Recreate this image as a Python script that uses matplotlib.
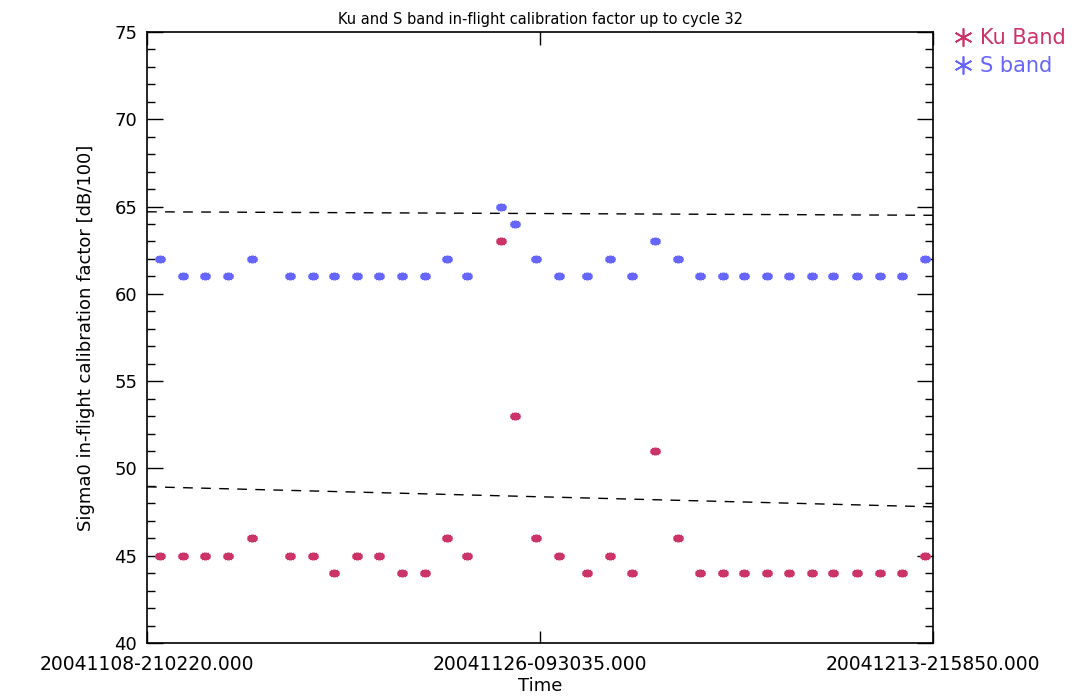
import numpy as np
import matplotlib
matplotlib.use("Agg")
import matplotlib.pyplot as plt
from matplotlib.path import Path
from matplotlib.lines import Line2D

# Pass times, in days after 2004-11-08 21:02:20
days = [0.58, 1.60, 2.59, 3.61, 4.68, 6.38, 7.40, 8.34, 9.36, 10.34,
        11.37, 12.40, 13.38, 14.27, 15.78, 16.41, 17.34, 18.37, 19.62, 20.64,
        21.62, 22.65, 23.67, 24.65, 25.68, 26.62, 27.64, 28.62, 29.65, 30.58,
        31.65, 32.68, 33.66, 34.69]

ku_band = [45, 45, 45, 45, 46, 45, 45, 44, 45, 45,
           44, 44, 46, 45, 63, 53, 46, 45, 44, 45,
           44, 51, 46, 44, 44, 44, 44, 44, 44, 44,
           44, 44, 44, 45]

s_band = [62, 61, 61, 61, 62, 61, 61, 61, 61, 61,
          61, 61, 62, 61, 65, 64, 62, 61, 61, 62,
          61, 63, 62, 61, 61, 61, 61, 61, 61, 61,
          61, 61, 61, 62]

# Threshold lines (start / end of the period)
limit_days = [0.0, 35.04]
upper_limit = [64.7, 64.5]
lower_limit = [48.95, 47.8]

tick_days = [0.0, 17.52, 35.04]
tick_labels = ["20041108-210220.000", "20041126-093035.000", "20041213-215850.000"]

ku_color = "#CC3366"
s_color = "#6666FF"

# flattened asterisk used for the data points
ang = np.deg2rad([0, 30, 60, 90, 120, 150])
verts, codes = [], []
for a in ang:
    dx, dy = np.cos(a), np.sin(a) * 0.62
    verts += [(-dx, -dy), (dx, dy)]
    codes += [Path.MOVETO, Path.LINETO]
blob = Path(verts, codes)

fig = plt.figure(figsize=(10.77, 6.98), dpi=100)
ax = fig.add_axes([0.1365, 0.0788, 0.7298, 0.8754])

ax.plot(limit_days, upper_limit, color="black", lw=1.0, ls=(0, (7, 6)))
ax.plot(limit_days, lower_limit, color="black", lw=1.0, ls=(0, (7, 6)))

ax.plot(days, ku_band, ls="none", marker=blob, ms=7, mew=3.6,
        mec=ku_color, mfc=ku_color)
ax.plot(days, s_band, ls="none", marker=blob, ms=7, mew=3.6,
        mec=s_color, mfc=s_color)

ax.set_xlim(0, 35.04)
ax.set_ylim(40, 75)
ax.set_xticks(tick_days)
ax.set_xticklabels(tick_labels, fontsize=13.5)
ax.set_yticks(np.arange(40, 76, 5))
ax.set_yticks(np.arange(40, 76, 1), minor=True)
ax.tick_params(axis="y", which="major", direction="in", length=11.5, width=1,
               labelsize=13, pad=7, right=True, left=True)
ax.tick_params(axis="y", which="minor", direction="in", length=5.8, width=1,
               right=True, left=True)
ax.tick_params(axis="x", which="major", direction="in", length=9, width=1,
               pad=9, top=True, bottom=True)
ax.xaxis.set_minor_locator(matplotlib.ticker.NullLocator())
for sp in ax.spines.values():
    sp.set_linewidth(1.2)

ax.set_title("Ku and S band in-flight calibration factor up to cycle 32",
             fontsize=10.5, pad=6)
ax.set_xlabel("Time", fontsize=13, labelpad=2)
ax.set_ylabel("Sigma0 in-flight calibration factor [dB/100]", fontsize=13,
              labelpad=14)

handles = [Line2D([], [], ls="none", marker=(6, 2, 0), ms=13, mew=1.2,
                  color=ku_color),
           Line2D([], [], ls="none", marker=(6, 2, 0), ms=13, mew=1.2,
                  color=s_color)]
fig.legend(handles, ["Ku Band", "S band"], loc="upper left",
           bbox_to_anchor=(0.878, 0.972), frameon=False, fontsize=15,
           handlelength=0.9, handletextpad=0.35, labelspacing=0.4,
           labelcolor=[ku_color, s_color], borderaxespad=0)

fig.savefig("out.png", dpi=100)
